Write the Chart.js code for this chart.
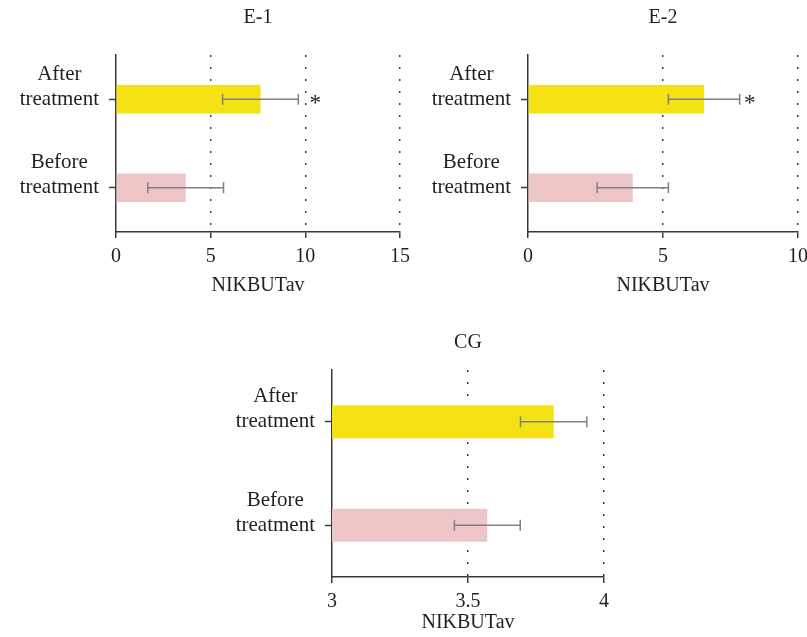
<!DOCTYPE html>
<html lang="en">

<head>
    <meta charset="UTF-8" />
    <title>NIKBUTav before / after treatment</title>
    <script src="https://cdn.jsdelivr.net/npm/chart.js"></script>
    <style>
        body {
            margin: 0;
            background-color: #ffffff;
        }

        .page {
            position: relative;
            width: 807px;
            height: 637px;
            overflow: hidden;
        }

        .panel {
            position: absolute;
        }
    </style>
</head>

<body>
    <div class="page">
        <div class="panel" style="left:0px; top:0px;"><canvas id="chartE1" width="412" height="300"></canvas></div>
        <div class="panel" style="left:412px; top:0px;"><canvas id="chartE2" width="395" height="300"></canvas></div>
        <div class="panel" style="left:200px; top:320px;"><canvas id="chartCG" width="420" height="317"></canvas></div>
    </div>

    <script>
        // categories (top to bottom)
        const categories = [['After', 'treatment'], ['Before', 'treatment']];

        // E-1 group
        const e1Means = [7.63, 3.68];
        const e1Errors = [2.0, 2.0];
        const e1Marks = ['*', ''];
        const e1Ticks = [0, 5, 10, 15];

        // E-2 group
        const e2Means = [6.52, 3.88];
        const e2Errors = [1.32, 1.32];
        const e2Marks = ['*', ''];
        const e2Ticks = [0, 5, 10];

        // control group
        const cgMeans = [3.815, 3.571];
        const cgErrors = [0.122, 0.121];
        const cgMarks = ['', ''];
        const cgTicks = [3, 3.5, 4];

        const barColors = ['#f4e215', '#efc6c8'];
        const inkColor = '#231f20';

        Chart.defaults.font.family = '"Liberation Serif", "Times New Roman", serif';
        Chart.defaults.font.size = 20;
        Chart.defaults.color = inkColor;

        // draws mean +/- error whiskers and significance marks
        const errorBarPlugin = {
            id: 'errorBars',
            afterDatasetsDraw(chart, args, opts) {
                const ctx = chart.ctx;
                const xScale = chart.scales.x;
                const ds = chart.data.datasets[0];
                const meta = chart.getDatasetMeta(0);
                ctx.save();
                meta.data.forEach((bar, i) => {
                    const y = bar.y;
                    const lo = xScale.getPixelForValue(ds.data[i] - opts.errors[i]);
                    const hi = xScale.getPixelForValue(ds.data[i] + opts.errors[i]);
                    ctx.strokeStyle = '#808080';
                    ctx.lineWidth = 1.5;
                    ctx.beginPath();
                    ctx.moveTo(lo, y);
                    ctx.lineTo(hi, y);
                    ctx.moveTo(lo, y - opts.cap);
                    ctx.lineTo(lo, y + opts.cap);
                    ctx.moveTo(hi, y - opts.cap);
                    ctx.lineTo(hi, y + opts.cap);
                    ctx.stroke();
                    if (opts.marks[i]) {
                        ctx.fillStyle = inkColor;
                        ctx.font = '23px "Liberation Serif", serif';
                        ctx.textAlign = 'center';
                        ctx.textBaseline = 'middle';
                        ctx.fillText(opts.marks[i], hi + opts.starGap, y + 5);
                    }
                });
                ctx.restore();
            }
        };

        // area = chart area inside the canvas, titleY = centre of the panel title
        function makeChart(id, title, means, errors, marks, ticks, area, titleY, barPct, starGap) {
            const canvas = document.getElementById(id);
            const w = canvas.width;
            const h = canvas.height;
            const min = ticks[0];
            const max = ticks[ticks.length - 1];
            return new Chart(canvas.getContext('2d'), {
                type: 'bar',
                data: {
                    labels: categories,
                    datasets: [{
                        data: means,
                        backgroundColor: barColors,
                        borderWidth: 0,
                        barPercentage: barPct,
                        categoryPercentage: 1.0,
                    }],
                },
                options: {
                    indexAxis: 'y',
                    responsive: false,
                    animation: false,
                    layout: {
                        padding: { left: 0, right: w - area.r, top: 0, bottom: 0 },
                    },
                    plugins: {
                        legend: { display: false },
                        tooltip: { enabled: false },
                        title: {
                            display: true,
                            text: title,
                            fullSize: false,
                            font: { size: 20, weight: 'normal' },
                            color: inkColor,
                            padding: { top: titleY - 12, bottom: area.t - titleY - 12 },
                        },
                        errorBars: { errors: errors, marks: marks, cap: 5.5, starGap: starGap },
                    },
                    scales: {
                        x: {
                            type: 'linear',
                            min: min,
                            max: max,
                            afterFit: (scale) => {
                                scale.height = h - area.b;
                                // let the layout padding alone decide the plot edges
                                scale.paddingLeft = 0;
                                scale.paddingRight = 0;
                            },
                            afterBuildTicks: (scale) => { scale.ticks = ticks.map(v => ({ value: v })); },
                            ticks: {
                                padding: 7,
                                font: { size: 20 },
                                color: inkColor,
                                callback: (v) => String(v),
                            },
                            grid: {
                                color: (c) => (c.tick && c.tick.value === min ? 'rgba(0,0,0,0)' : '#3a3a3a'),
                                lineWidth: 1.5,
                                tickColor: '#3a3a3a',
                                tickLength: 6,
                                tickWidth: 1.5,
                            },
                            border: { display: true, color: '#3a3a3a', width: 1.5, dash: [2, 10] },
                            title: {
                                display: true,
                                text: 'NIKBUTav',
                                font: { size: 20 },
                                color: inkColor,
                                padding: { top: 0, bottom: 2 },
                            },
                        },
                        y: {
                            afterFit: (scale) => { scale.width = area.l; },
                            ticks: {
                                crossAlign: 'center',
                                labelOffset: -12.6,
                                padding: 10,
                                font: { size: 21, lineHeight: 1.2 },
                                color: inkColor,
                            },
                            grid: {
                                offset: false,
                                drawOnChartArea: false,
                                tickLength: 7,
                                tickColor: '#3a3a3a',
                                tickWidth: 1.5,
                            },
                            border: { display: true, color: '#3a3a3a', width: 1.5 },
                        },
                    },
                },
                plugins: [errorBarPlugin],
            });
        }

        makeChart('chartE1', 'E-1', e1Means, e1Errors, e1Marks, e1Ticks,
            { l: 116, t: 55, r: 400, b: 232 }, 18, 0.32, 17);
        makeChart('chartE2', 'E-2', e2Means, e2Errors, e2Marks, e2Ticks,
            { l: 116, t: 55, r: 386, b: 232 }, 18, 0.32, 10);
        makeChart('chartCG', 'CG', cgMeans, cgErrors, cgMarks, cgTicks,
            { l: 132, t: 50, r: 404, b: 257 }, 23, 0.32, 12);
    </script>
</body>

</html>
